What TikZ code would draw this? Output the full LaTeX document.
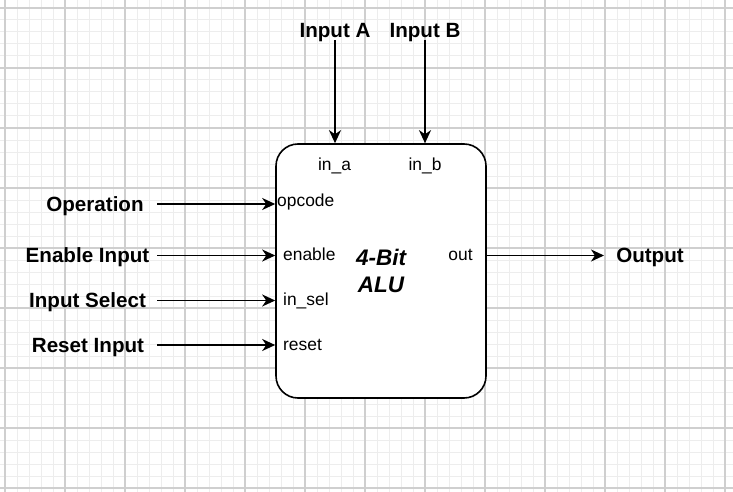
\documentclass[tikz,border=0pt]{standalone}
\usepackage{fontspec}
\setmainfont{Liberation Sans}
\usetikzlibrary{arrows.meta}

\begin{document}
\begin{tikzpicture}[x=1pt, y=-1pt,
    sig/.style={-{Stealth[length=13pt,width=12pt,inset=4pt]}, line width=1.6pt, black},
    extlabel/.style={anchor=base, inner sep=0pt, font=\bfseries\fontsize{20.6}{24}\selectfont},
    portlabel/.style={inner sep=0pt, font=\fontsize{17.4}{20}\selectfont},
    alubox/.style={draw, line width=1.6pt, rounded corners=22pt, fill=white,
        minimum width=210pt, minimum height=254pt, inner sep=0pt, align=center,
        font=\bfseries\itshape\fontsize{22.5}{27}\selectfont}]
    % Background grid
    \useasboundingbox (0,0) rectangle (733,492);
    \fill[white] (0,0) rectangle (733,492);
    \foreach \x in {5,17,...,729} {
        \draw[black!7, line width=1pt] (\x,0) -- (\x,492);
    }
    \foreach \y in {8,20,...,492} {
        \draw[black!7, line width=1pt] (0,\y) -- (733,\y);
    }
    \foreach \x in {5,65,...,725} {
        \draw[black!19, line width=1.2pt] (\x,0) -- (\x,492);
    }
    \foreach \y in {8,68,...,488} {
        \draw[black!19, line width=1.2pt] (0,\y) -- (733,\y);
    }
    % ALU block
    \node[alubox] (alu) at (381,271) {4-Bit\\ALU};
    % Ports
    \node[portlabel, anchor=base] (ina) at (334.5,170.7) {in\_a};
    \node[portlabel, anchor=base] (inb) at (425,170.7) {in\_b};
    \node[portlabel, anchor=base west] (opcode) at (277,206.7) {opcode};
    \node[portlabel, anchor=base west] (enable) at (283,260) {enable};
    \node[portlabel, anchor=base west] (insel) at (283,305) {in\_sel};
    \node[portlabel, anchor=base west] (reset) at (283,350) {reset};
    \node[portlabel, anchor=base] (out) at (460.5,260) {out};
    % Signal names
    \node[extlabel] (inputA) at (335,38) {Input A};
    \node[extlabel] (inputB) at (425,38) {Input B};
    \node[extlabel] (operation) at (95,211) {Operation};
    \node[extlabel] (enableIn) at (87.5,262.7) {Enable Input};
    \node[extlabel] (inputSel) at (87.5,307.7) {Input Select};
    \node[extlabel] (resetIn) at (88,352.7) {Reset Input};
    \node[extlabel] (output) at (650,262.7) {Output};
    % Wires
    \coordinate (tailA) at (335,40);
    \coordinate (tailB) at (425,40);
    \coordinate (tailOp) at (157,204);
    \coordinate (tailEn) at (157,255.5);
    \coordinate (tailSel) at (157,300.5);
    \coordinate (tailRst) at (157,345);
    \coordinate (headOut) at (604,255.5);
    \draw[sig] (tailA) -- (alu.north -| tailA);
    \draw[sig] (tailB) -- (alu.north -| tailB);
    \draw[sig] (tailOp) -- (alu.west |- tailOp);
    \draw[sig] (tailEn) -- (alu.west |- tailEn);
    \draw[sig] (tailSel) -- (alu.west |- tailSel);
    \draw[sig] (tailRst) -- (alu.west |- tailRst);
    \draw[sig] (alu.east |- headOut) -- (headOut);
\end{tikzpicture}
\end{document}
